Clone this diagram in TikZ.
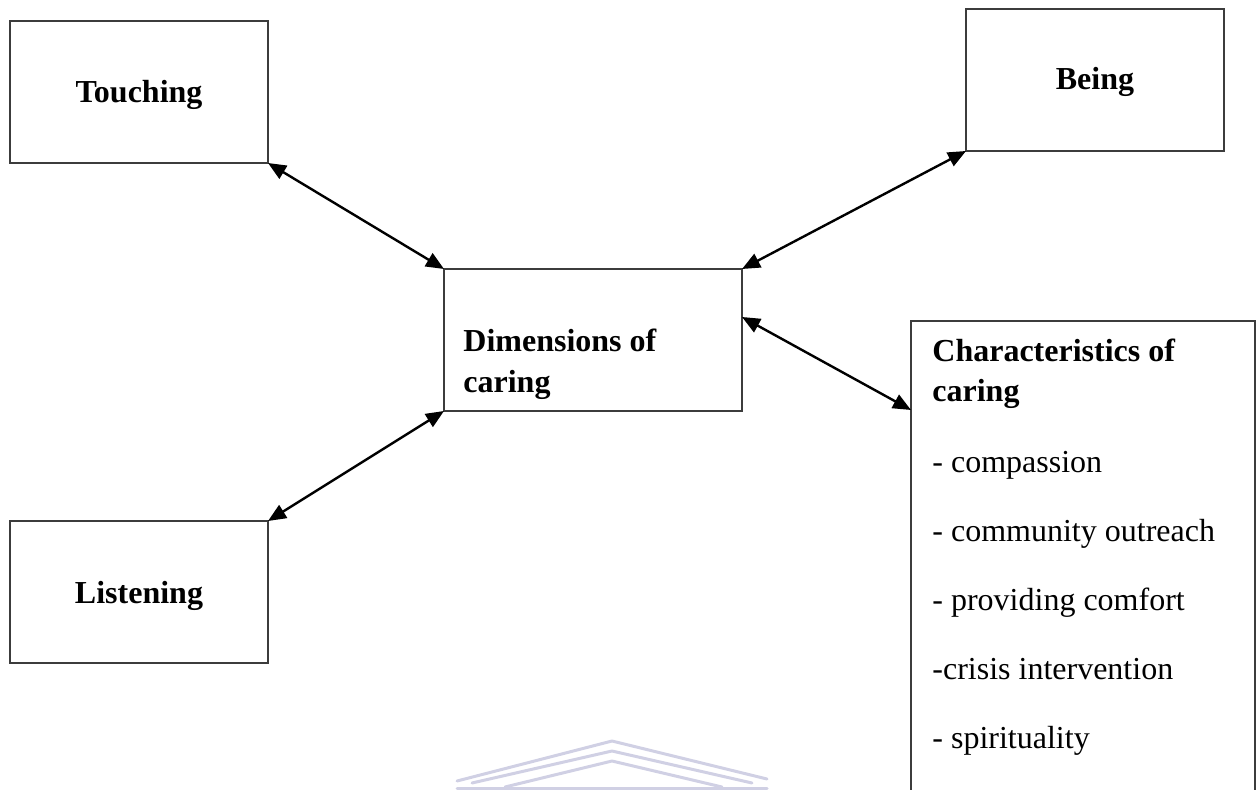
\documentclass[tikz,border=0pt]{standalone}
\usepackage{fontspec}
\setmainfont{Liberation Serif}
\usetikzlibrary{arrows.meta}
\definecolor{boxline}{RGB}{60,60,60}
\definecolor{wmark}{RGB}{208,208,228}
\begin{document}
\begin{tikzpicture}[x=0.5pt,y=-0.5pt,
  box/.style={draw=boxline,line width=0.65pt,rectangle,inner sep=0pt,outer sep=0pt},
  lbl/.style={anchor=base,inner sep=0pt,font=\fontsize{16}{19}\selectfont\bfseries},
  item/.style={anchor=base west,inner sep=0pt,font=\fontsize{16}{19}\selectfont},
  biarrow/.style={{Triangle[length=9pt,width=7.5pt]}-{Triangle[length=9pt,width=7.5pt]},line width=1.2pt,black},
  wm/.style={draw=wmark,line width=1.5pt,line cap=round,line join=round}]
\useasboundingbox (0,0) rectangle (1256,790);
% watermark
\draw[wm] (457,781) -- (612,741) -- (767,779);
\draw[wm] (472,783) -- (612,751) -- (752,783);
\draw[wm] (505,787) -- (612,761) -- (722,787);
\draw[wm] (457,788) -- (767,788);
% boxes
\node[box,minimum width=129pt,minimum height=71pt] (touch) at (139,92) {};
\node[box,minimum width=129pt,minimum height=71pt] (listen) at (139,592) {};
\node[box,minimum width=129pt,minimum height=71pt] (being) at (1095,80) {};
\node[box,minimum width=149pt,minimum height=71pt] (dim) at (593,340) {};
\draw[boxline,line width=0.65pt] (911,800) -- (911,321) coordinate (char) -- (1255,321) -- (1255,800);
\coordinate (chartip) at (911,410);
\coordinate (dimright) at (742,317);
% labels
\node[lbl] (tlab) at (139,103) {Touching};
\node[lbl] (blab) at (1095,90) {Being};
\node[lbl] (llab) at (139,603) {Listening};
\node[lbl,anchor=base west] (dlab1) at (463,352) {Dimensions of};
\node[lbl,anchor=base west] (dlab2) at (463,393) {caring};
\node[lbl,anchor=base west] (clab1) at (932,362) {Characteristics of};
\node[lbl,anchor=base west] (clab2) at (932,401) {caring};
\node[item] (c1) at (932,472) {- compassion};
\node[item] (c2) at (932,541) {- community outreach};
\node[item] (c3) at (932,610) {- providing comfort};
\node[item] (c4) at (932,679) {-crisis intervention};
\node[item] (c5) at (932,748) {- spirituality};
% connectors
\draw[biarrow] (touch.south east) -- (dim.north west);
\draw[biarrow] (being.south west) -- (dim.north east);
\draw[biarrow] (listen.north east) -- (dim.south west);
\draw[biarrow] (dimright) -- (chartip);
\end{tikzpicture}
\end{document}
